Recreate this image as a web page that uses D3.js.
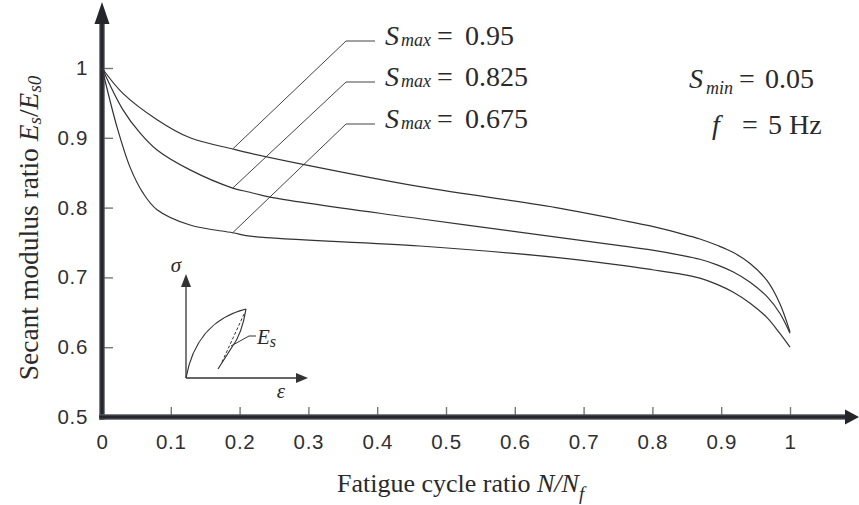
<!DOCTYPE html>
<html>
<head>
<meta charset="utf-8">
<script src="https://cdn.jsdelivr.net/npm/d3@7"></script>
<style>
  html, body { margin: 0; padding: 0; background: #fff; }
  svg { display: block; }
  .serif { font-family: "Liberation Serif", "Times New Roman", serif; }
  .sans { font-family: "Liberation Sans", Arial, sans-serif; }
</style>
</head>
<body>
<svg id="chart" width="859" height="505"></svg>
<script>
// Fatigue cycle ratio N/Nf (x) and secant modulus ratio Es/Es0 (y) for three stress levels
const ratioHigh = [0, 0.03, 0.08, 0.128, 0.19, 0.215, 0.292, 0.462, 0.666, 0.75, 0.8, 0.84, 0.869, 0.894, 0.917, 0.942, 0.967, 0.985, 1];
const modulusHigh = [1, 0.964, 0.926, 0.900, 0.884, 0.878, 0.862, 0.830, 0.799, 0.783, 0.773, 0.763, 0.755, 0.746, 0.736, 0.720, 0.695, 0.663, 0.622];

const ratioMid = [0, 0.0305, 0.0552, 0.080, 0.128, 0.19, 0.215, 0.244, 0.462, 0.666, 0.75, 0.8, 0.84, 0.869, 0.894, 0.917, 0.942, 0.967, 0.985, 1];
const modulusMid = [1, 0.940, 0.907, 0.8825, 0.854, 0.828, 0.822, 0.815, 0.784, 0.757, 0.746, 0.739, 0.732, 0.726, 0.718, 0.708, 0.693, 0.672, 0.649, 0.620];

const ratioLow = [0, 0.0218, 0.0407, 0.0596, 0.080, 0.128, 0.19, 0.215, 0.462, 0.666, 0.75, 0.8, 0.84, 0.869, 0.894, 0.917, 0.942, 0.967, 0.985, 1];
const modulusLow = [1, 0.9155, 0.858, 0.821, 0.797, 0.775, 0.764, 0.759, 0.745, 0.728, 0.718, 0.711, 0.705, 0.699, 0.690, 0.679, 0.663, 0.642, 0.620, 0.600];

const seriesLabels = ["0.95", "0.825", "0.675"];
const leaderRatio = 0.19;           // where each label's leader touches its curve
const leaderModulus = [0.884, 0.828, 0.764];

const xTicks = [0, 0.1, 0.2, 0.3, 0.4, 0.5, 0.6, 0.7, 0.8, 0.9, 1];
const yTicks = [0.5, 0.6, 0.7, 0.8, 0.9, 1];

const svg = d3.select("#chart");
const x = d3.scaleLinear().domain([0, 1]).range([102, 790]);
const y = d3.scaleLinear().domain([0.5, 1]).range([417, 68]);

const axisColor = "#24262b";
const inkColor = "#2a2a2a";

// ---- axes: ticks and labels
const fmt = d => d3.format("~g")(d);
const gx = svg.append("g")
  .attr("transform", `translate(0,${y(0.5)})`)
  .call(d3.axisBottom(x).tickValues(xTicks).tickFormat(fmt).tickSizeInner(-10).tickSizeOuter(0).tickPadding(17));
const gy = svg.append("g")
  .attr("transform", `translate(${x(0)},0)`)
  .call(d3.axisLeft(y).tickValues(yTicks).tickFormat(fmt).tickSizeInner(-11).tickSizeOuter(0).tickPadding(14));

[gx, gy].forEach(g => {
  g.select(".domain").remove();
  g.selectAll(".tick line").attr("stroke", "#777").attr("stroke-width", 1.4);
  g.selectAll(".tick text")
    .attr("class", "sans")
    .attr("font-size", 20.5)
    .attr("letter-spacing", 0.7)
    .attr("fill", "#303030");
});

// ---- thick axis lines with arrowheads
const x0 = x(0), yb = y(0.5);
function thickLine(x1, y1, x2, y2) {
  svg.append("line").attr("x1", x1).attr("y1", y1).attr("x2", x2).attr("y2", y2)
    .attr("stroke", "#555960").attr("stroke-width", 5.5);
  svg.append("line").attr("x1", x1).attr("y1", y1).attr("x2", x2).attr("y2", y2)
    .attr("stroke", axisColor).attr("stroke-width", 3.2);
}
thickLine(x0, yb + 2.7, x0, 22);
thickLine(x0 - 2.7, yb, 848, yb);
svg.append("path")
  .attr("d", `M${x0},2 L${x0 + 7.5},24 L${x0 - 7.5},24 Z`)
  .attr("fill", axisColor);
svg.append("path")
  .attr("d", `M859,${yb} L845,${yb - 7.5} L845,${yb + 7.5} Z`)
  .attr("fill", axisColor);

// ---- curves
const line = d3.line().x(d => x(d[0])).y(d => y(d[1])).curve(d3.curveCatmullRom.alpha(0.5));
const series = [
  d3.zip(ratioHigh, modulusHigh),
  d3.zip(ratioMid, modulusMid),
  d3.zip(ratioLow, modulusLow)
];
svg.append("g").selectAll("path").data(series).join("path")
  .attr("d", line)
  .attr("fill", "none")
  .attr("stroke", "#333")
  .attr("stroke-width", 1.2);

// ---- series labels with leader lines
const labelBaselines = [45, 86, 128];
const elbowX = 346, labelLineEnd = 375;
seriesLabels.forEach((lab, i) => {
  const base = labelBaselines[i];
  const elbowY = base - 4;
  svg.append("polyline")
    .attr("points", `${x(leaderRatio)},${y(leaderModulus[i])} ${elbowX},${elbowY} ${labelLineEnd},${elbowY}`)
    .attr("fill", "none").attr("stroke", "#444").attr("stroke-width", 1);
  const t = svg.append("text").attr("class", "serif").attr("y", base)
    .attr("fill", inkColor).attr("font-size", 28);
  t.append("tspan").attr("x", 385).attr("font-style", "italic").text("S");
  t.append("tspan").attr("x", 401).attr("y", base + 1).attr("font-style", "italic").attr("font-size", 18).text("max");
  t.append("tspan").attr("x", 437).attr("y", base).text("=");
  t.append("tspan").attr("x", 465).text(lab);
});

// ---- test conditions
const tmin = svg.append("text").attr("class", "serif").attr("y", 88)
  .attr("fill", inkColor).attr("font-size", 28);
tmin.append("tspan").attr("x", 689).attr("font-style", "italic").text("S");
tmin.append("tspan").attr("x", 706).attr("y", 94).attr("font-style", "italic").attr("font-size", 18).text("min");
tmin.append("tspan").attr("x", 739).attr("y", 88).text("=");
tmin.append("tspan").attr("x", 765).text("0.05");

const tf = svg.append("text").attr("class", "serif").attr("y", 134)
  .attr("fill", inkColor).attr("font-size", 28);
tf.append("tspan").attr("x", 712).attr("font-style", "italic").text("f");
tf.append("tspan").attr("x", 742).text("=");
tf.append("tspan").attr("x", 768).text("5 Hz");

// ---- axis titles
const xt = svg.append("text").attr("class", "serif").attr("x", 337).attr("y", 492)
  .attr("fill", inkColor).attr("font-size", 26);
xt.append("tspan").text("Fatigue cycle ratio ");
xt.append("tspan").attr("font-style", "italic").text("N/N");
xt.append("tspan").attr("font-style", "italic").attr("font-size", 19).attr("dy", 8).text("f");

const yt = svg.append("text").attr("class", "serif")
  .attr("transform", "translate(38,228) rotate(-90)")
  .attr("text-anchor", "middle")
  .attr("fill", inkColor).attr("font-size", 27.5);
yt.append("tspan").text("Secant modulus ratio ");
yt.append("tspan").attr("font-style", "italic").text("E");
yt.append("tspan").attr("font-style", "italic").attr("font-size", 19).attr("dy", 3).text("s");
yt.append("tspan").attr("dy", -3).text("/");
yt.append("tspan").attr("font-style", "italic").text("E");
yt.append("tspan").attr("font-style", "italic").attr("font-size", 19).attr("dy", 3).text("s0");

// ---- inset: stress-strain sketch defining the secant modulus
const inset = svg.append("g").attr("stroke", "#333").attr("fill", "none");
inset.append("line").attr("x1", 186).attr("y1", 378).attr("x2", 186).attr("y2", 284).attr("stroke-width", 1.3);
inset.append("line").attr("x1", 186).attr("y1", 378).attr("x2", 298).attr("y2", 378).attr("stroke-width", 1.3);
svg.append("path").attr("d", "M186,274 L191,287 L181,287 Z").attr("fill", "#333");
svg.append("path").attr("d", "M308,378 L296,373 L296,383 Z").attr("fill", "#333");
inset.append("path")
  .attr("d", "M186,378 C192,345 210,318 246,309")
  .attr("stroke-width", 1.2);
inset.append("path")
  .attr("d", "M246,309 Q242,334 232,347 L218,369")
  .attr("stroke-width", 1.2);
inset.append("line").attr("x1", 222).attr("y1", 362).attr("x2", 245).attr("y2", 312)
  .attr("stroke-width", 1).attr("stroke-dasharray", "3,2");
inset.append("polyline").attr("points", "231,346 249,336 256,336").attr("stroke-width", 1);

const es = svg.append("text").attr("class", "serif").attr("x", 257).attr("y", 344)
  .attr("fill", inkColor).attr("font-size", 21);
es.append("tspan").attr("font-style", "italic").text("E");
es.append("tspan").attr("font-style", "italic").attr("font-size", 16).attr("dy", 3).text("s");

svg.append("text").attr("class", "serif").attr("x", 176).attr("y", 272)
  .attr("text-anchor", "middle").attr("font-style", "italic").attr("font-size", 21)
  .attr("fill", inkColor).text("σ");
svg.append("text").attr("class", "serif").attr("x", 281).attr("y", 398)
  .attr("text-anchor", "middle").attr("font-style", "italic").attr("font-size", 21)
  .attr("fill", inkColor).text("ε");
</script>
</body>
</html>
